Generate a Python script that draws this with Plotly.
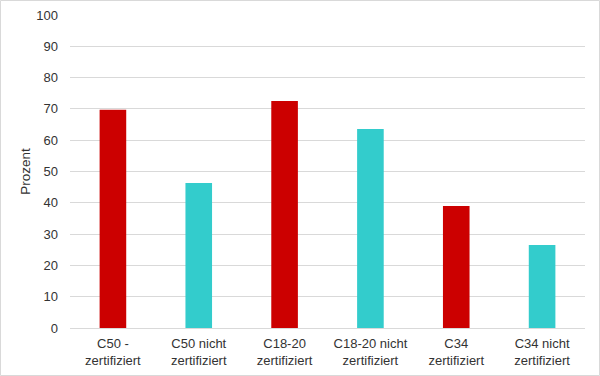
import plotly.graph_objects as go

categories = ["C50 -<br>zertifiziert", "C50 nicht<br>zertifiziert", "C18-20<br>zertifiziert",
              "C18-20 nicht<br>zertifiziert", "C34<br>zertifiziert", "C34 nicht<br>zertifiziert"]
values = [69.7, 46.3, 72.5, 63.6, 39.0, 26.5]
colors = ["#CC0000", "#33CCCC", "#CC0000", "#33CCCC", "#CC0000", "#33CCCC"]
y_ticks = [0, 10, 20, 30, 40, 50, 60, 70, 80, 90, 100]

W, H = 600, 376
L, R, T, B = 70, 15, 15, 48
pw, ph = W - L - R, H - T - B

fig = go.Figure(go.Bar(x=categories, y=values, marker_color=colors, width=0.31,
                       marker_line_width=0))

fig.update_layout(
    width=W, height=H,
    margin=dict(l=L, r=R, t=T, b=B),
    paper_bgcolor="white", plot_bgcolor="white",
    font=dict(family="Liberation Sans, Arial, sans-serif", size=13, color="#333333"),
    showlegend=False,
)
fig.update_yaxes(range=[0, 100], tickvals=y_ticks, showgrid=True, gridcolor="#D9D9D9",
                 gridwidth=1, zeroline=False, showline=False, ticks="",
                 ticklabelstandoff=11, automargin=False,
                 title=dict(text="Prozent", font=dict(size=13.5), standoff=2))
fig.update_xaxes(showline=True, linecolor="#D9D9D9", linewidth=1, ticks="",
                 tickfont=dict(size=13), automargin=False, ticklabelstandoff=3)

fig.add_shape(type="rect", xref="paper", yref="paper",
              x0=-(L - 0.5) / pw, x1=1 + (R - 0.5) / pw,
              y0=-(B - 0.5) / ph, y1=1 + (T - 0.5) / ph,
              line=dict(color="#D9D9D9", width=1), fillcolor="rgba(0,0,0,0)")

fig.write_html("out.html", config={"displayModeBar": False},
               post_script="document.body.style.margin='0';document.body.style.overflow='hidden';")
